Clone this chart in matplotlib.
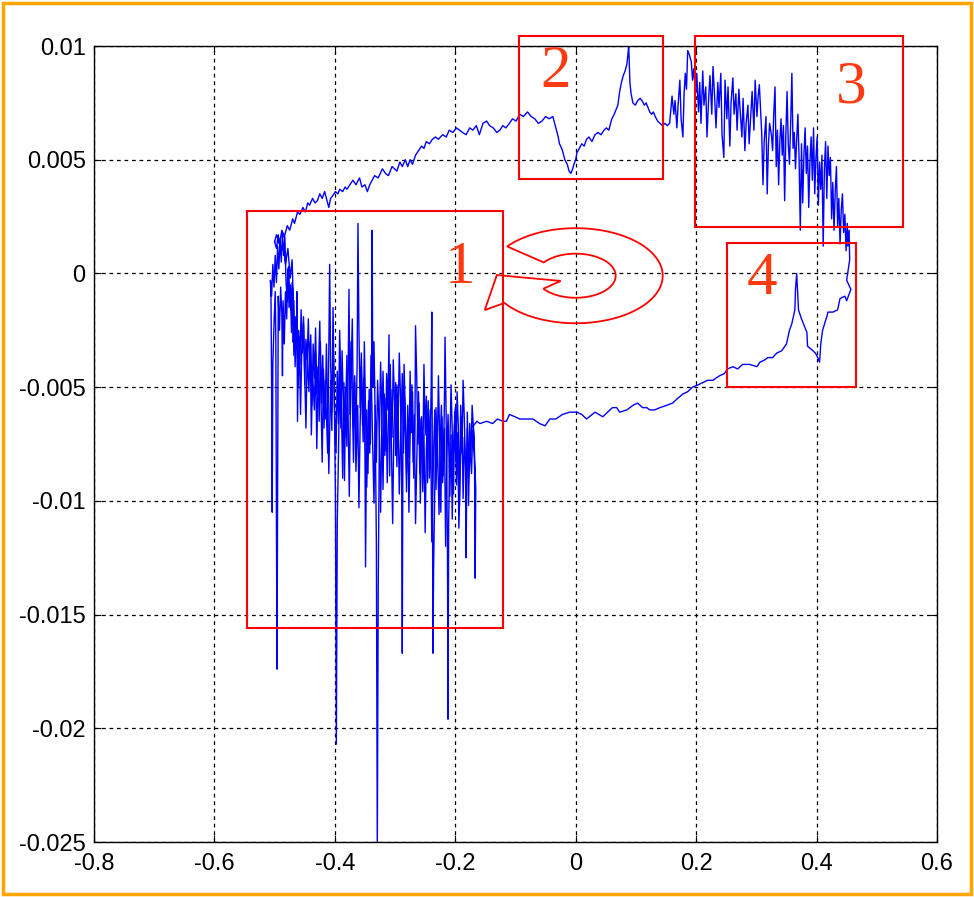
import numpy as np
import matplotlib
matplotlib.use("Agg")
import matplotlib.pyplot as plt
from matplotlib.patches import Rectangle, Polygon

# trace points, (x, y), in drawing order
upper_arc = [
    (-0.500, 0.0014), (-0.497, 0.0017), (-0.492, 0.0013), (-0.488, 0.0019), (-0.484, 0.0016),
    (-0.479, 0.0021), (-0.475, 0.0019), (-0.470, 0.0024), (-0.467, 0.0022), (-0.462, 0.0027),
    (-0.458, 0.0026), (-0.453, 0.0029), (-0.449, 0.0027), (-0.445, 0.0031), (-0.442, 0.0030),
    (-0.437, 0.0033), (-0.433, 0.0031), (-0.429, 0.0032), (-0.425, 0.0035), (-0.421, 0.0033),
    (-0.417, 0.0036), (-0.413, 0.0032), (-0.410, 0.0029), (-0.407, 0.0033), (-0.404, 0.0034),
    (-0.399, 0.0036), (-0.395, 0.0035), (-0.392, 0.0037), (-0.387, 0.0036), (-0.383, 0.0038),
    (-0.380, 0.0037), (-0.375, 0.0039), (-0.370, 0.0041), (-0.365, 0.0039), (-0.359, 0.0042),
    (-0.355, 0.0038), (-0.350, 0.0039), (-0.346, 0.0036), (-0.342, 0.0039), (-0.338, 0.0041),
    (-0.334, 0.0043), (-0.328, 0.0042), (-0.321, 0.0046), (-0.316, 0.0044), (-0.311, 0.0043),
    (-0.305, 0.0047), (-0.301, 0.0046), (-0.297, 0.0045), (-0.292, 0.0049), (-0.288, 0.0047),
    (-0.283, 0.0050), (-0.279, 0.0047), (-0.275, 0.0050), (-0.271, 0.0048), (-0.266, 0.0052),
    (-0.261, 0.0054), (-0.256, 0.0056), (-0.252, 0.0055), (-0.248, 0.0058), (-0.243, 0.0057),
    (-0.238, 0.0059), (-0.233, 0.0060), (-0.228, 0.0059), (-0.221, 0.0061), (-0.215, 0.0060),
    (-0.210, 0.0063), (-0.204, 0.0062), (-0.198, 0.0064), (-0.193, 0.0063), (-0.188, 0.0062),
    (-0.182, 0.0061), (-0.176, 0.0064), (-0.171, 0.0063), (-0.165, 0.0065), (-0.160, 0.0061),
    (-0.154, 0.0066), (-0.148, 0.0067), (-0.143, 0.0065), (-0.137, 0.0064), (-0.131, 0.0062),
    (-0.126, 0.0063), (-0.121, 0.0065), (-0.116, 0.0064), (-0.110, 0.0066), (-0.105, 0.0068),
    (-0.099, 0.0067), (-0.093, 0.0070), (-0.087, 0.0069), (-0.080, 0.0071), (-0.074, 0.0069),
    (-0.068, 0.0068), (-0.062, 0.0066), (-0.056, 0.0067), (-0.050, 0.0069), (-0.044, 0.0068),
    (-0.038, 0.0069), (-0.035, 0.0066), (-0.032, 0.0063), (-0.029, 0.0060), (-0.027, 0.0057),
    (-0.025, 0.0056), (-0.022, 0.0054), (-0.020, 0.0052), (-0.018, 0.0050), (-0.014, 0.0048),
    (-0.011, 0.0045), (-0.008, 0.0044), (-0.005, 0.0046), (-0.003, 0.0048), (0.000, 0.0050),
    (0.002, 0.0053), (0.006, 0.0055), (0.010, 0.0057), (0.014, 0.0056), (0.018, 0.0059),
    (0.022, 0.0060), (0.027, 0.0058), (0.032, 0.0061), (0.037, 0.0062), (0.042, 0.0061),
    (0.047, 0.0063), (0.051, 0.0064), (0.055, 0.0063), (0.058, 0.0066), (0.060, 0.0068),
    (0.064, 0.0070), (0.067, 0.0072), (0.070, 0.0074), (0.073, 0.0080), (0.076, 0.0084),
    (0.079, 0.0087), (0.082, 0.0089), (0.085, 0.0092), (0.087, 0.0097), (0.088, 0.0100),
    (0.089, 0.0092), (0.090, 0.0084), (0.092, 0.0079), (0.095, 0.0075), (0.099, 0.0074),
    (0.103, 0.0076), (0.107, 0.0077), (0.110, 0.0076), (0.114, 0.0074), (0.117, 0.0075),
    (0.120, 0.0073), (0.123, 0.0071), (0.126, 0.0070), (0.129, 0.0071), (0.132, 0.0069),
    (0.136, 0.0067), (0.140, 0.0066), (0.144, 0.0065), (0.148, 0.0066), (0.152, 0.0065),
    (0.156, 0.0066),
]

box3_noise = [
    (0.160, 0.0078), (0.163, 0.0070), (0.165, 0.0076), (0.168, 0.0064), (0.170, 0.0074),
    (0.173, 0.0085), (0.175, 0.0068), (0.178, 0.0060), (0.180, 0.0079), (0.182, 0.0088),
    (0.184, 0.0081), (0.186, 0.0098), (0.189, 0.0096), (0.192, 0.0093), (0.194, 0.0085),
    (0.196, 0.0090), (0.199, 0.0079), (0.201, 0.0088), (0.204, 0.0071), (0.206, 0.0084),
    (0.208, 0.0066), (0.211, 0.0089), (0.213, 0.0074), (0.216, 0.0082), (0.218, 0.0060),
    (0.221, 0.0078), (0.223, 0.0087), (0.226, 0.0070), (0.228, 0.0091), (0.231, 0.0076),
    (0.233, 0.0064), (0.236, 0.0084), (0.238, 0.0073), (0.241, 0.0088), (0.243, 0.0061),
    (0.246, 0.0051), (0.248, 0.0085), (0.251, 0.0068), (0.253, 0.0082), (0.256, 0.0056),
    (0.258, 0.0075), (0.261, 0.0086), (0.263, 0.0070), (0.266, 0.0079), (0.268, 0.0063),
    (0.271, 0.0081), (0.273, 0.0072), (0.276, 0.0060), (0.278, 0.0077), (0.281, 0.0054),
    (0.283, 0.0066), (0.286, 0.0074), (0.288, 0.0057), (0.291, 0.0071), (0.293, 0.0080),
    (0.296, 0.0063), (0.298, 0.0085), (0.301, 0.0069), (0.303, 0.0078), (0.305, 0.0083),
    (0.307, 0.0072), (0.309, 0.0061), (0.311, 0.0039), (0.313, 0.0058), (0.316, 0.0069),
    (0.318, 0.0035), (0.320, 0.0056), (0.322, 0.0066), (0.325, 0.0061), (0.327, 0.0054),
    (0.329, 0.0071), (0.331, 0.0082), (0.333, 0.0047), (0.335, 0.0063), (0.337, 0.0039),
    (0.339, 0.0058), (0.341, 0.0068), (0.343, 0.0052), (0.345, 0.0065), (0.347, 0.0032),
    (0.349, 0.0061), (0.351, 0.0080), (0.353, 0.0057), (0.355, 0.0048), (0.357, 0.0066),
    (0.359, 0.0088), (0.361, 0.0055), (0.363, 0.0062), (0.365, 0.0046), (0.367, 0.0059),
    (0.369, 0.0070), (0.371, 0.0050), (0.373, 0.0019), (0.375, 0.0057), (0.377, 0.0031),
    (0.379, 0.0052), (0.381, 0.0064), (0.383, 0.0044), (0.385, 0.0056), (0.387, 0.0029),
    (0.389, 0.0049), (0.391, 0.0060), (0.393, 0.0041), (0.395, 0.0064), (0.397, 0.0035),
    (0.399, 0.0051), (0.401, 0.0060), (0.403, 0.0030), (0.405, 0.0049), (0.407, 0.0037),
    (0.409, 0.0052), (0.411, 0.0012), (0.413, 0.0046), (0.415, 0.0058), (0.417, 0.0033),
    (0.419, 0.0056), (0.421, 0.0043), (0.423, 0.0051), (0.425, 0.0024), (0.427, 0.0040),
    (0.429, 0.0019), (0.431, 0.0036), (0.433, 0.0047), (0.435, 0.0021), (0.437, 0.0033),
    (0.439, 0.0013), (0.441, 0.0028), (0.443, 0.0035), (0.445, 0.0018), (0.447, 0.0026),
    (0.449, 0.0010), (0.451, 0.0022), (0.452, 0.0012), (0.454, 0.0019), (0.455, 0.0008),
]

lower_arc = [
    (0.455, 0.0006), (0.450, -0.0003), (0.457, -0.0007), (0.450, -0.0012), (0.447, -0.0010),
    (0.439, -0.0011), (0.435, -0.0016), (0.427, -0.0017), (0.419, -0.0017), (0.417, -0.0019),
    (0.410, -0.0025), (0.407, -0.0031), (0.405, -0.0039), (0.402, -0.0037), (0.398, -0.0035),
    (0.394, -0.0034), (0.385, -0.0032), (0.384, -0.0026), (0.375, -0.0020), (0.370, -0.0016),
    (0.367, 0.0000), (0.365, -0.0007), (0.364, -0.0016), (0.359, -0.0022), (0.355, -0.0025),
    (0.350, -0.0031), (0.342, -0.0034), (0.334, -0.0035), (0.327, -0.0037), (0.319, -0.0037),
    (0.314, -0.0038), (0.306, -0.0039), (0.301, -0.0041), (0.289, -0.0040), (0.277, -0.0040),
    (0.269, -0.0042), (0.261, -0.0041), (0.252, -0.0042), (0.247, -0.0044), (0.239, -0.0045),
    (0.233, -0.0046), (0.228, -0.0047), (0.219, -0.0047), (0.211, -0.0048), (0.203, -0.0049),
    (0.194, -0.0050), (0.186, -0.0052), (0.178, -0.0053), (0.169, -0.0055), (0.161, -0.0057),
    (0.151, -0.0058), (0.140, -0.0059), (0.131, -0.0060), (0.123, -0.0060), (0.118, -0.0059),
    (0.111, -0.0059), (0.103, -0.0057), (0.095, -0.0058), (0.085, -0.0060), (0.073, -0.0061),
    (0.068, -0.0059), (0.061, -0.0059), (0.053, -0.0061), (0.045, -0.0063), (0.032, -0.0061),
    (0.018, -0.0064), (0.010, -0.0062), (0.002, -0.0061), (-0.010, -0.0061), (-0.022, -0.0062),
    (-0.033, -0.0064), (-0.043, -0.0064), (-0.051, -0.0067), (-0.060, -0.0066), (-0.071, -0.0064),
    (-0.081, -0.0064), (-0.093, -0.0064), (-0.101, -0.0063), (-0.110, -0.0062), (-0.115, -0.0065),
    (-0.121, -0.0065), (-0.130, -0.0064), (-0.138, -0.0066), (-0.148, -0.0065), (-0.159, -0.0066),
    (-0.164, -0.0065), (-0.170, -0.0067),
]

box1_noise = [
    (-0.168, -0.0085), (-0.167, -0.0134), (-0.166, -0.0095), (-0.169, -0.0072), (-0.172, -0.0058),
    (-0.174, -0.0080), (-0.176, -0.0066), (-0.178, -0.0090), (-0.180, -0.0061), (-0.182, -0.0125),
    (-0.183, -0.0088), (-0.185, -0.0064), (-0.187, -0.0047), (-0.189, -0.0079), (-0.191, -0.0058),
    (-0.193, -0.0102), (-0.195, -0.0067), (-0.197, -0.0052), (-0.199, -0.0083), (-0.201, -0.0061),
    (-0.203, -0.0097), (-0.205, -0.0070), (-0.207, -0.0049), (-0.209, -0.0076), (-0.211, -0.0110),
    (-0.212, -0.0196), (-0.213, -0.0120), (-0.215, -0.0066), (-0.217, -0.0028), (-0.218, -0.0055),
    (-0.220, -0.0089), (-0.222, -0.0063), (-0.224, -0.0105), (-0.226, -0.0072), (-0.228, -0.0045),
    (-0.230, -0.0081), (-0.232, -0.0059), (-0.234, -0.0093), (-0.236, -0.0130), (-0.237, -0.0167),
    (-0.238, -0.0098), (-0.239, -0.0017), (-0.240, -0.0050), (-0.242, -0.0078), (-0.244, -0.0060),
    (-0.246, -0.0092), (-0.248, -0.0054), (-0.250, -0.0071), (-0.252, -0.0040), (-0.254, -0.0086),
    (-0.256, -0.0063), (-0.258, -0.0101), (-0.260, -0.0057), (-0.262, -0.0075), (-0.264, -0.0046),
    (-0.266, -0.0023), (-0.267, -0.0068), (-0.269, -0.0090), (-0.271, -0.0052), (-0.273, -0.0070),
    (-0.275, -0.0043), (-0.277, -0.0081), (-0.279, -0.0058), (-0.281, -0.0096), (-0.283, -0.0061),
    (-0.285, -0.0040), (-0.287, -0.0075), (-0.288, -0.0167), (-0.289, -0.0090), (-0.291, -0.0054),
    (-0.293, -0.0035), (-0.295, -0.0066), (-0.297, -0.0049), (-0.299, -0.0080), (-0.301, -0.0056),
    (-0.303, -0.0038), (-0.305, -0.0072), (-0.307, -0.0051), (-0.309, -0.0089), (-0.310, -0.0027),
    (-0.312, -0.0060), (-0.314, -0.0044), (-0.316, -0.0078), (-0.318, -0.0053), (-0.320, -0.0095),
    (-0.322, -0.0062), (-0.324, -0.0039), (-0.326, -0.0070), (-0.328, -0.0140), (-0.3295, -0.0255),
    (-0.331, -0.0120), (-0.333, -0.0064), (-0.335, -0.0030), (-0.337, -0.0050), (-0.338, 0.0019),
    (-0.339, -0.0042), (-0.341, -0.0075), (-0.343, -0.0051), (-0.345, -0.0088), (-0.347, -0.0060),
    (-0.349, -0.0129), (-0.350, -0.0079), (-0.352, -0.0046), (-0.354, -0.0067), (-0.356, -0.0035),
    (-0.358, -0.0059), (-0.360, -0.0025), (-0.3616, 0.0022), (-0.363, -0.0040), (-0.365, -0.0071),
    (-0.367, -0.0048), (-0.369, -0.0083), (-0.371, -0.0055), (-0.373, -0.0030), (-0.375, -0.0062),
    (-0.3765, -0.0007), (-0.378, -0.0045), (-0.380, -0.0076), (-0.382, -0.0050), (-0.384, -0.0091),
    (-0.386, -0.0057), (-0.388, -0.0034), (-0.390, -0.0068), (-0.392, -0.0043), (-0.394, -0.0080),
    (-0.396, -0.0110), (-0.3975, -0.0207), (-0.399, -0.0098), (-0.401, -0.0052), (-0.403, -0.0028),
    (-0.405, -0.0061), (-0.407, -0.0040), (-0.4086, 0.0004), (-0.410, -0.0033), (-0.412, -0.0079),
    (-0.414, -0.0062), (-0.416, -0.0047), (-0.418, -0.0068), (-0.420, -0.0036), (-0.422, -0.0057),
    (-0.424, -0.0030), (-0.426, -0.0065), (-0.428, -0.0041), (-0.430, -0.0053), (-0.432, -0.0024),
    (-0.434, -0.0046), (-0.436, -0.0031), (-0.438, -0.0058), (-0.440, -0.0027), (-0.442, -0.0044),
    (-0.444, -0.0020), (-0.446, -0.0038), (-0.448, -0.0029), (-0.450, -0.0049), (-0.452, -0.0022),
    (-0.454, -0.0035), (-0.456, -0.0016), (-0.458, -0.0040), (-0.460, -0.0025), (-0.462, -0.0065),
    (-0.463, -0.0008), (-0.464, -0.0031), (-0.466, -0.0019), (-0.468, -0.0036), (-0.470, -0.0012),
    (-0.472, -0.0026), (-0.474, -0.0005),
]

left_cluster = [
    (-0.476, -0.0015), (-0.478, 0.0002), (-0.480, -0.0020), (-0.482, -0.0008), (-0.484, -0.0031),
    (-0.486, -0.0012), (-0.487, -0.0045), (-0.488, -0.0018), (-0.490, -0.0006), (-0.492, -0.0025),
    (-0.494, -0.0010), (-0.495, -0.0100), (-0.496, -0.0174), (-0.497, -0.0110), (-0.498, -0.0030),
    (-0.499, -0.0008), (-0.501, -0.0022), (-0.503, -0.0040), (-0.504, -0.0105), (-0.505, -0.0050),
    (-0.506, -0.0012), (-0.507, -0.0003), (-0.505, -0.0010), (-0.503, 0.0004), (-0.501, -0.0006),
    (-0.499, 0.0008), (-0.497, -0.0004), (-0.495, 0.0012), (-0.493, 0.0002), (-0.491, 0.0015),
    (-0.489, 0.0005), (-0.487, 0.0018), (-0.485, 0.0008), (-0.483, 0.0016), (-0.481, -0.0004),
    (-0.479, -0.0012), (-0.477, 0.0003), (-0.475, -0.0009), (-0.473, -0.0016), (-0.471, -0.0004),
    (-0.469, -0.0012), (-0.471, 0.0006), (-0.474, -0.0002), (-0.478, 0.0011), (-0.482, 0.0004),
    (-0.486, 0.0013), (-0.490, 0.0009), (-0.494, 0.0017), (-0.497, 0.0011), (-0.500, 0.0014),
]

# second pass of the trace through region 1 (it crosses the area more than once)
box1_overlap = [
    (-0.470, -0.0030), (-0.468, -0.0012), (-0.466, -0.0041), (-0.464, -0.0022), (-0.461, -0.0050),
    (-0.459, -0.0028), (-0.457, -0.0062), (-0.455, -0.0034), (-0.452, -0.0019), (-0.450, -0.0045),
    (-0.448, -0.0068), (-0.446, -0.0036), (-0.443, -0.0052), (-0.441, -0.0030), (-0.439, -0.0071),
    (-0.437, -0.0044), (-0.434, -0.0060), (-0.432, -0.0035), (-0.430, -0.0077), (-0.428, -0.0049),
    (-0.425, -0.0021), (-0.423, -0.0056), (-0.421, -0.0083), (-0.419, -0.0042), (-0.416, -0.0064),
    (-0.414, -0.0031), (-0.412, -0.0058), (-0.410, -0.0088), (-0.407, -0.0047), (-0.405, -0.0069),
    (-0.403, -0.0015), (-0.401, -0.0055), (-0.398, -0.0079), (-0.396, -0.0043), (-0.394, -0.0066),
    (-0.392, -0.0025), (-0.389, -0.0060), (-0.387, -0.0090), (-0.385, -0.0048), (-0.383, -0.0072),
    (-0.380, -0.0036), (-0.378, -0.0063), (-0.376, -0.0098), (-0.374, -0.0054), (-0.371, -0.0020),
    (-0.369, -0.0068), (-0.367, -0.0045), (-0.365, -0.0087), (-0.362, -0.0058), (-0.360, -0.0103),
    (-0.358, -0.0066), (-0.356, -0.0041), (-0.353, -0.0074), (-0.351, -0.0030), (-0.349, -0.0062),
    (-0.347, -0.0094), (-0.344, -0.0056), (-0.342, -0.0079), (-0.340, -0.0036), (-0.338, -0.0065),
    (-0.335, -0.0101), (-0.333, -0.0058), (-0.331, -0.0083), (-0.329, -0.0047), (-0.326, -0.0072),
    (-0.324, -0.0105), (-0.322, -0.0066), (-0.320, -0.0043), (-0.317, -0.0080), (-0.315, -0.0055),
    (-0.313, -0.0092), (-0.311, -0.0063), (-0.308, -0.0040), (-0.306, -0.0077), (-0.304, -0.0110),
    (-0.302, -0.0069), (-0.299, -0.0048), (-0.297, -0.0085), (-0.295, -0.0059), (-0.293, -0.0097),
    (-0.290, -0.0064), (-0.288, -0.0044), (-0.286, -0.0079), (-0.284, -0.0055), (-0.281, -0.0088),
    (-0.279, -0.0067), (-0.277, -0.0105), (-0.275, -0.0072), (-0.272, -0.0049), (-0.270, -0.0083),
    (-0.268, -0.0062), (-0.266, -0.0110), (-0.263, -0.0070), (-0.261, -0.0052), (-0.259, -0.0088),
    (-0.257, -0.0064), (-0.254, -0.0096), (-0.252, -0.0071), (-0.250, -0.0114), (-0.248, -0.0077),
    (-0.245, -0.0056), (-0.243, -0.0090), (-0.241, -0.0066), (-0.239, -0.0118), (-0.236, -0.0079),
    (-0.234, -0.0060), (-0.232, -0.0095), (-0.230, -0.0070), (-0.227, -0.0106), (-0.225, -0.0074),
    (-0.223, -0.0058), (-0.221, -0.0092), (-0.218, -0.0068), (-0.216, -0.0120), (-0.214, -0.0081),
    (-0.212, -0.0062), (-0.209, -0.0098), (-0.207, -0.0071), (-0.205, -0.0108), (-0.203, -0.0076),
    (-0.200, -0.0059), (-0.198, -0.0093), (-0.196, -0.0070), (-0.194, -0.0112), (-0.191, -0.0078),
    (-0.189, -0.0063), (-0.187, -0.0099), (-0.185, -0.0072), (-0.182, -0.0090), (-0.180, -0.0068),
    (-0.178, -0.0102), (-0.176, -0.0075), (-0.173, -0.0088), (-0.171, -0.0069),
]

x_ticks = [-0.8, -0.6, -0.4, -0.2, 0.0, 0.2, 0.4, 0.6]
x_tick_labels = ['-0.8', '-0.6', '-0.4', '-0.2', '0', '0.2', '0.4', '0.6']
y_ticks = [0.01, 0.005, 0.0, -0.005, -0.01, -0.015, -0.02, -0.025]
y_tick_labels = ['0.01', '0.005', '0', '-0.005', '-0.01', '-0.015', '-0.02', '-0.025']

# marked regions: label, x0, x1, y0, y1, label x, label y
regions = [
    ('1', -0.5465, -0.1213, -0.01559, 0.00274, -0.193, 0.00024),
    ('2', -0.0947, 0.1445, 0.00415, 0.01044, -0.033, 0.00886),
    ('3', 0.1977, 0.5432, 0.00204, 0.01044, 0.457, 0.00815),
    ('4', 0.2508, 0.4651, -0.00499, 0.00134, 0.309, -0.00025),
]


def arrow_outline():
    # curled arrow drawn next to region 1
    ox, oy = 0.1445, 0.00209
    ix, iy = 0.0664, 0.00097
    cy = -0.0001
    outer = np.radians(np.linspace(215, 502, 80))
    inner = np.radians(np.linspace(143, -144, 60))
    pts = [(-0.131, -0.00007), (-0.151, -0.00161)]
    pts += list(zip(ox * np.cos(outer), cy + oy * np.sin(outer)))
    pts += list(zip(ix * np.cos(inner), cy + iy * np.sin(inner)))
    pts += [(-0.0249, -0.00033)]
    return pts


fig = plt.figure(figsize=(9.74, 8.97), dpi=100)
ax = fig.add_axes([0.0965, 0.0613, 0.8655, 0.8874])

trace = np.array(upper_arc + box3_noise + lower_arc + box1_noise + left_cluster)
ax.plot(trace[:, 0], trace[:, 1], color='#0000FF', lw=1.0)
extra = np.array(box1_overlap)
ax.plot(extra[:, 0], extra[:, 1], color='#0000FF', lw=1.0)

ax.set_xlim(-0.8, 0.6)
ax.set_ylim(-0.025, 0.01)
ax.set_xticks(x_ticks)
ax.set_xticklabels(x_tick_labels)
ax.set_yticks(y_ticks)
ax.set_yticklabels(y_tick_labels)

tick_font = ['Liberation Sans Narrow', 'Liberation Sans', 'DejaVu Sans']
for lab in ax.get_xticklabels() + ax.get_yticklabels():
    lab.set_family(tick_font)
    lab.set_fontsize(17)
ax.tick_params(direction='in', length=5, width=0.8, top=True, right=True)
ax.tick_params(axis='x', pad=8)
ax.tick_params(axis='y', pad=6)
for sp in ax.spines.values():
    sp.set_linewidth(1.0)
    sp.set_color('black')

ax.grid(True, color='black', linestyle=(0, (3, 3)), linewidth=0.9)
ax.set_axisbelow(True)

for label, x0, x1, y0, y1, tx, ty in regions:
    ax.add_patch(Rectangle((x0, y0), x1 - x0, y1 - y0, fill=False,
                           edgecolor='#FF0000', lw=1.5, clip_on=False, zorder=4))
    ax.text(tx, ty, label, color='#FF3A10', fontsize=44, family='Liberation Serif',
            ha='center', va='center', zorder=5)

ax.add_patch(Polygon(arrow_outline(), closed=True, fill=False,
                     edgecolor='#FF0000', lw=1.3, zorder=4))

# orange frame round the whole picture
fig.patches.append(Rectangle((0.003, 0.003), 0.994, 0.994, transform=fig.transFigure,
                             fill=False, edgecolor='#FFA500', lw=2.5))

fig.savefig('out.png', dpi=100)
